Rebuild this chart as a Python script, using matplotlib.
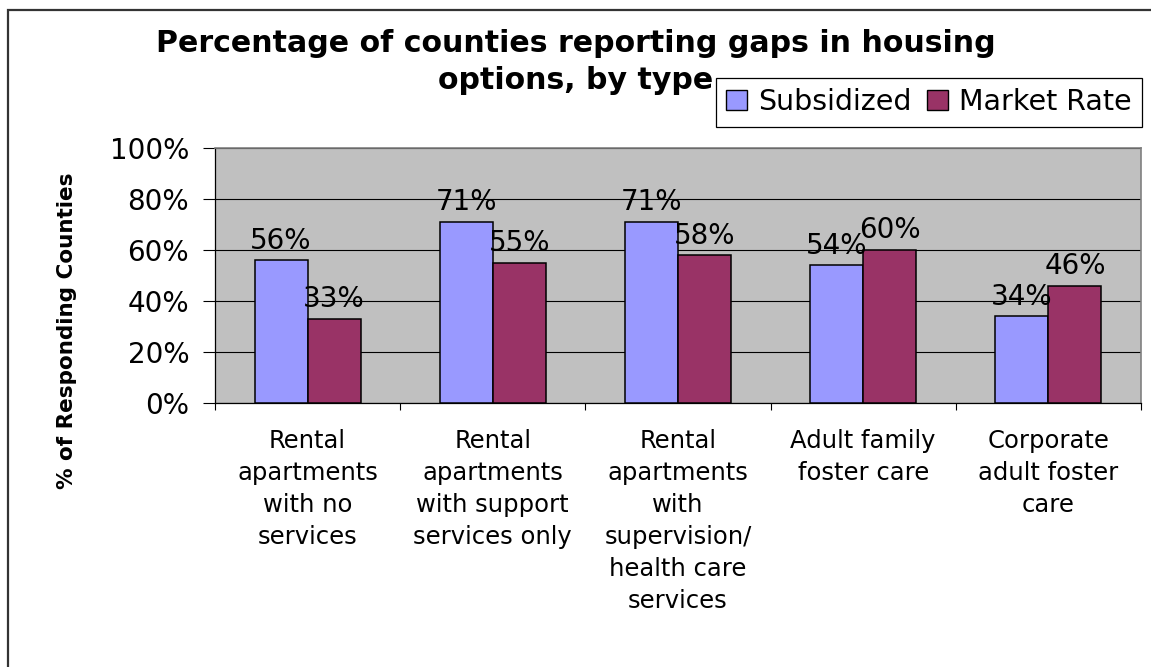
import matplotlib
matplotlib.use('Agg')
import matplotlib.pyplot as plt
import numpy as np
from matplotlib.patches import Patch, Rectangle

categories = [
    'Rental\napartments\nwith no\nservices',
    'Rental\napartments\nwith support\nservices only',
    'Rental\napartments\nwith\nsupervision/\nhealth care\nservices',
    'Adult family\nfoster care',
    'Corporate\nadult foster\ncare',
]
subsidized = [56, 71, 71, 54, 34]
market_rate = [33, 55, 58, 60, 46]
series_names = ['Subsidized', 'Market Rate']
y_ticks = [0, 20, 40, 60, 80, 100]

sub_color = '#9999FF'
mkt_color = '#993366'

fig = plt.figure(figsize=(11.51, 6.67), dpi=100)
W, H = 1151, 667

# chart border, runs off the right and bottom of the image
fig.patches.append(Rectangle((8 / W, -0.1), 1.2, 1 - 10 / H + 0.1,
                             transform=fig.transFigure, fill=False,
                             edgecolor='#333333', linewidth=1.6))

ax = fig.add_axes([215 / W, 1 - 403 / H, (1141 - 215) / W, (403 - 148) / H])
ax.set_facecolor('#C0C0C0')

x = np.arange(len(categories))
w = 0.286
bars_sub = ax.bar(x - w / 2, subsidized, w, color=sub_color,
                  edgecolor='black', linewidth=1.1, zorder=3)
bars_mkt = ax.bar(x + w / 2, market_rate, w, color=mkt_color,
                  edgecolor='black', linewidth=1.1, zorder=3)

for bars in (bars_sub, bars_mkt):
    ax.bar_label(bars, labels=['%d%%' % b.get_height() for b in bars],
                 padding=4, fontsize=20, zorder=4)

ax.set_xlim(-0.5, len(categories) - 0.5)
ax.set_ylim(0, 100)
ax.set_yticks(y_ticks)
ax.set_yticklabels(['%d%%' % v for v in y_ticks], fontsize=20)
ax.yaxis.grid(True, color='black', linewidth=0.8)
ax.set_axisbelow(True)
ax.tick_params(axis='y', direction='out', length=8.6, width=0.8, pad=10)

# boundary ticks between groups, labels on minor ticks at group centres
ax.set_xticks(np.arange(len(categories) + 1) - 0.5)
ax.set_xticklabels([])
ax.set_xticks(x, minor=True)
ax.set_xticklabels(categories, minor=True, fontsize=17.5, linespacing=1.42)
ax.tick_params(axis='x', which='major', direction='out', length=5, width=0.8)
ax.tick_params(axis='x', which='minor', length=0, pad=19)

for side in ('left', 'bottom'):
    ax.spines[side].set_color('black')
    ax.spines[side].set_linewidth(0.9)
for side in ('top', 'right'):
    ax.spines[side].set_color('#808080')
    ax.spines[side].set_linewidth(1.2)

fig.text(67 / W, 1 - 331 / H, '% of Responding Counties', rotation=90,
         fontsize=15.5, fontweight='bold', ha='center', va='center')

fig.text(576 / W, 1 - 52 / H, 'Percentage of counties reporting gaps in housing',
         fontsize=21.6, fontweight='bold', ha='center', va='baseline')
fig.text(576 / W, 1 - 89 / H, 'options, by type',
         fontsize=21.6, fontweight='bold', ha='center', va='baseline')

handles = [Patch(facecolor=sub_color, edgecolor='black', linewidth=1.0),
           Patch(facecolor=mkt_color, edgecolor='black', linewidth=1.0)]
leg = fig.legend(handles, series_names, loc='upper left',
                 bbox_to_anchor=(716 / W, 1 - 78 / H), ncol=2, fontsize=20.5,
                 frameon=True, fancybox=False, shadow=False, framealpha=1,
                 edgecolor='black', borderpad=0.36, borderaxespad=0,
                 handlelength=0.72, handleheight=0.72, handletextpad=0.4,
                 columnspacing=0.55)
leg.get_frame().set_linewidth(0.9)

fig.savefig('out.png', dpi=100)
